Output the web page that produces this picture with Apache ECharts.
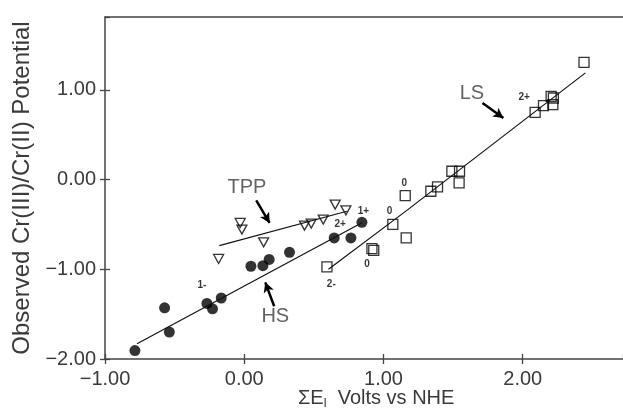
<!DOCTYPE html>
<html><head><meta charset="utf-8">
<script src="https://cdn.jsdelivr.net/npm/echarts@6/dist/echarts.min.js"></script>
<style>html,body{margin:0;padding:0;background:#fff}#c{width:623px;height:416px}</style>
</head><body><div id="c"></div>
<script>
// HS (filled circles)
var hsX = [-0.785,-0.572,-0.538,-0.268,-0.228,-0.165,0.048,0.134,0.179,0.325,0.646,0.766,0.845];
var hsY = [-1.906,-1.43,-1.70,-1.38,-1.44,-1.32,-0.966,-0.96,-0.89,-0.81,-0.65,-0.65,-0.476];
// TPP (open down triangles)
var tppX = [-0.184,-0.029,-0.017,0.139,0.433,0.481,0.567,0.653,0.730];
var tppY = [-0.884,-0.483,-0.557,-0.699,-0.513,-0.49,-0.445,-0.279,-0.342];
// LS (open squares)
var lsX = [0.594,0.917,0.93,1.067,1.163,1.156,1.34,1.388,1.491,1.546,1.543,2.089,2.149,2.216,2.22,2.204,2.44];
var lsY = [-0.973,-0.769,-0.79,-0.50,-0.65,-0.178,-0.13,-0.081,0.093,0.093,-0.037,0.75,0.825,0.836,0.91,0.929,1.308];
// fitted lines
var hsLineX = [-0.77, 0.845], hsLineY = [-1.83, -0.48];
var tppLineX = [-0.179, 0.737], tppLineY = [-0.736, -0.353];
var lsLineX = [0.605, 1.17, 2.45], lsLineY = [-1.0, -0.34, 1.19];
// charge labels
var chargeText = ['1-','2+','1+','2-','0','0','0','2+'];
var chargeX = [-0.304,0.689,0.856,0.625,0.881,1.043,1.149,2.01];
var chargeY = [-1.182,-0.502,-0.353,-1.171,-0.942,-0.353,-0.037,0.922];
// annotations
var annoText = ['TPP','LS','HS'];
var annoX = [0.019,1.635,0.223];
var annoY = [-0.089,0.959,-1.527];
var arrowFromX = [0.086,1.711,0.215], arrowFromY = [-0.231,0.855,-1.412];
var arrowToX = [0.182,1.861,0.151], arrowToY = [-0.483,0.688,-1.145];
// axes
var xMin = -1, xMax = 2.72, yMin = -2, yMax = 1.813, tickStep = 1;
var xTitle = '\u03A3E{sub|l}  Volts vs NHE';
var yTitle = 'Observed Cr(III)/Cr(II) Potential';

function pairs(xs, ys){ return xs.map(function(x,i){return [x, ys[i]];}); }
function fmt(v){
  if (Math.abs(v - Math.round(v)) > 1e-6) return '';
  var s = Math.abs(v).toFixed(2);
  return (v < 0 ? '\u2212' : '') + s;
}
var FONT = 'Liberation Sans';
var txtColor = '#3a3a3a';
var axisColor = '#444';
var chart = echarts.init(document.getElementById('c'));
var lineStyle = {color:'#111', width:1.2};
var inTick = {show:true, inside:true, length:5, lineStyle:{color:axisColor, width:1.3}};
var outTick = {show:true, inside:false, length:5, lineStyle:{color:axisColor, width:1.3}};
chart.setOption({
  animation:false,
  backgroundColor:'#fff',
  grid:{left:105, top:17, right:0, bottom:57},
  xAxis:[{
    type:'value', min:xMin, max:xMax, interval:tickStep,
    axisLine:{show:true, onZero:false, lineStyle:{color:axisColor, width:1.5}},
    axisTick:outTick, splitLine:{show:false},
    axisLabel:{formatter:fmt, showMaxLabel:false, fontFamily:FONT, fontSize:20, color:txtColor, margin:10}
  },{
    type:'value', position:'bottom', min:xMin, max:xMax, interval:tickStep,
    axisLine:{show:false, onZero:false}, axisTick:inTick, axisLabel:{show:false}, splitLine:{show:false}
  },{
    type:'value', position:'top', min:xMin, max:xMax, interval:tickStep,
    axisLine:{show:true, onZero:false, lineStyle:{color:axisColor, width:1.5}},
    axisTick:{show:false}, axisLabel:{show:false}, splitLine:{show:false}
  }],
  yAxis:[{
    type:'value', min:yMin, max:yMax, interval:tickStep,
    axisLine:{show:true, onZero:false, lineStyle:{color:axisColor, width:1.5}},
    axisTick:outTick, splitLine:{show:false},
    axisLabel:{formatter:fmt, showMaxLabel:false, fontFamily:FONT, fontSize:20, color:txtColor, margin:9},
    name:yTitle, nameLocation:'middle', nameGap:71, nameRotate:90,
    nameTextStyle:{fontFamily:FONT, fontSize:24, color:txtColor}
  },{
    type:'value', position:'left', min:yMin, max:yMax, interval:tickStep,
    axisLine:{show:false, onZero:false}, axisTick:inTick, axisLabel:{show:false}, splitLine:{show:false}
  }],
  graphic:[{
    type:'text', left:298, top:388,
    style:{
      text:xTitle,
      rich:{sub:{fontSize:13, verticalAlign:'bottom', padding:[10,0,0,0], fontFamily:FONT, fill:txtColor}},
      font:'20px "Liberation Sans"', fill:txtColor
    }
  }],
  series:[
    {type:'line', data:pairs(hsLineX,hsLineY), showSymbol:false, lineStyle:lineStyle, silent:true},
    {type:'line', data:pairs(tppLineX,tppLineY), showSymbol:false, lineStyle:lineStyle, silent:true},
    {type:'line', data:pairs(lsLineX,lsLineY), showSymbol:false, lineStyle:lineStyle, silent:true},
    {type:'scatter', data:pairs(hsX,hsY), symbol:'circle', symbolSize:11, itemStyle:{color:'#000'}},
    {type:'scatter', data:pairs(tppX,tppY), symbol:'triangle', symbolRotate:180, symbolSize:[10,9],
      itemStyle:{color:'rgba(0,0,0,0)', borderColor:'#000', borderWidth:1.3}},
    {type:'scatter', data:pairs(lsX,lsY), symbol:'rect', symbolSize:10,
      itemStyle:{color:'rgba(0,0,0,0)', borderColor:'#000', borderWidth:1.3}},
    {type:'scatter', symbolSize:0, silent:true,
      data:chargeText.map(function(t,i){return {name:t, value:[chargeX[i],chargeY[i]]};}),
      label:{show:true, position:'inside', formatter:'{b}', fontFamily:FONT, fontSize:10, fontWeight:'bold', color:'#000'}},
    {type:'scatter', symbolSize:0, silent:true,
      data:annoText.map(function(t,i){return {name:t, value:[annoX[i],annoY[i]]};}),
      label:{show:true, position:'inside', formatter:'{b}', fontFamily:FONT, fontSize:20, color:txtColor},
      markLine:{silent:true, animation:false, symbol:['none','arrow'], symbolSize:[8,10], label:{show:false},
        lineStyle:{color:'#000', width:2.5, type:'solid'},
        data:arrowFromX.map(function(x,i){return [{coord:[x,arrowFromY[i]]},{coord:[arrowToX[i],arrowToY[i]]}];})}
    }
  ]
});
</script></body></html>
